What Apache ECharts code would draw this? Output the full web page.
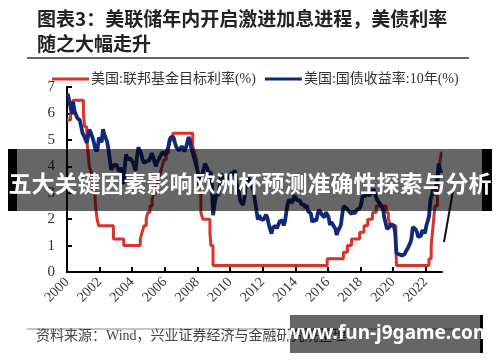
<!DOCTYPE html>
<html><head><meta charset="utf-8">
<script src="https://cdn.jsdelivr.net/npm/echarts@6/dist/echarts.min.js"></script>
<style>html,body{margin:0;padding:0;background:#fff}#c{width:500px;height:362px}</style>
</head><body><div id="c"></div>
<script>
// Fed funds target rate (upper bound), change dates and new levels
const fedDates = ['2000-01-01','2000-02-02','2000-03-21','2000-05-16','2001-01-03','2001-01-31','2001-03-20','2001-04-18','2001-05-15','2001-06-27','2001-08-21','2001-09-17','2001-10-02','2001-11-06','2001-12-11','2002-11-06','2003-06-25','2004-06-30','2004-08-10','2004-09-21','2004-11-10','2004-12-14','2005-02-02','2005-03-22','2005-05-03','2005-06-30','2005-08-09','2005-09-20','2005-11-01','2005-12-13','2006-01-31','2006-03-28','2006-05-10','2006-06-29','2007-09-18','2007-10-31','2007-12-11','2008-01-22','2008-01-30','2008-03-18','2008-04-30','2008-10-08','2008-10-29','2008-12-16','2015-12-16','2016-12-14','2017-03-15','2017-06-14','2017-12-13','2018-03-21','2018-06-13','2018-09-26','2018-12-19','2019-07-31','2019-09-18','2019-10-30','2020-03-03','2020-03-15','2022-03-16','2022-05-04','2022-06-15','2022-07-27','2022-09-21','2022-11-02','2022-12-14','2022-12-31'];
const fedRates = [5.75,5.75,6.0,6.5,6.0,5.5,5.0,4.5,4.0,3.75,3.5,3.0,2.5,2.0,1.75,1.25,1.0,1.25,1.5,1.75,2.0,2.25,2.5,2.75,3.0,3.25,3.5,3.75,4.0,4.25,4.5,4.75,5.0,5.25,4.75,4.5,4.25,3.5,3.0,2.25,2.0,1.5,1.0,0.25,0.5,0.75,1.0,1.25,1.5,1.75,2.0,2.25,2.5,2.25,2.0,1.75,1.25,0.25,0.5,1.0,1.75,2.5,3.25,4.0,4.5,4.5];
// US 10Y treasury yield, monthly, Jan 2000 - Dec 2022
const tenYearStart = 2000;
const tenYear = [
6.75,6.52,6.26,5.99,6.44,6.10,6.05,5.83,5.80,5.74,5.72,5.24,
5.16,5.10,4.89,5.14,5.39,5.28,5.24,4.97,4.73,4.57,4.65,5.09,
5.04,4.91,5.40,5.21,5.16,4.93,4.65,4.26,3.87,3.94,4.05,4.03,
4.05,3.90,3.81,3.96,3.57,3.33,3.98,4.45,4.27,4.29,4.30,4.27,
4.15,4.08,3.83,4.35,4.72,4.73,4.50,4.28,4.13,4.10,4.19,4.23,
4.22,4.17,4.50,4.34,4.14,4.00,4.18,4.26,4.20,4.46,4.54,4.47,
4.42,4.57,4.72,4.99,5.11,5.11,5.09,4.88,4.72,4.73,4.60,4.56,
4.76,4.72,4.56,4.69,4.75,5.10,5.00,4.67,4.52,4.53,4.15,4.10,
3.74,3.74,3.51,3.68,3.88,4.10,4.01,3.89,3.69,3.81,3.53,2.15,
2.52,2.87,2.82,2.93,3.29,3.72,3.56,3.59,3.40,3.39,3.40,3.59,
3.73,3.69,3.73,3.85,3.42,3.20,3.01,2.70,2.65,2.54,2.76,3.29,
3.39,3.58,3.41,3.46,3.17,3.00,3.00,2.30,1.98,2.15,2.01,1.98,
1.97,1.97,2.17,2.05,1.80,1.62,1.45,1.68,1.72,1.75,1.65,1.72,
1.91,1.98,1.96,1.76,1.93,2.30,2.58,2.74,2.81,2.62,2.72,2.90,
2.86,2.71,2.72,2.71,2.56,2.60,2.54,2.42,2.53,2.30,2.33,2.21,
1.88,1.98,2.04,1.94,2.20,2.36,2.32,2.17,2.17,2.07,2.26,2.24,
2.09,1.78,1.89,1.81,1.81,1.64,1.40,1.56,1.63,1.76,2.14,2.49,
2.43,2.42,2.48,2.30,2.30,2.19,2.32,2.21,2.20,2.36,2.35,2.40,
2.58,2.86,2.84,2.87,2.98,2.91,2.89,2.89,3.00,3.15,3.12,2.83,
2.71,2.68,2.57,2.53,2.40,2.07,2.06,1.63,1.70,1.71,1.81,1.86,
1.76,1.50,0.70,0.66,0.67,0.73,0.62,0.55,0.68,0.79,0.87,0.93,
1.08,1.26,1.70,1.64,1.62,1.52,1.32,1.28,1.37,1.58,1.56,1.47,
1.76,1.93,2.13,2.75,2.90,3.14,2.90,2.90,3.52,4.10,3.89,3.75];
const xTicks = [2000,2002,2004,2006,2008,2010,2012,2014,2016,2018,2020,2022];
const yTicks = [0,1,2,3,4,5,6,7];
const seriesNames = ['美国:联邦基金目标利率(%)','美国:国债收益率:10年(%)'];

function decYear(s){
  const d = new Date(s+'T00:00:00Z');
  const y = d.getUTCFullYear();
  const start = Date.UTC(y,0,1), end = Date.UTC(y+1,0,1);
  return y + (d.getTime()-start)/(end-start);
}
const fedData = fedDates.map((d,i)=>[decYear(d), fedRates[i]]);
const tyData = tenYear.map((v,i)=>[tenYearStart + (i+0.5)/12, v]);

const serif = "'Liberation Serif','Noto Sans CJK SC',serif";
const chart = echarts.init(document.getElementById('c'), null, {renderer:'canvas'});
chart.setOption({
  animation:false,
  backgroundColor:'#fff',
  grid:{left:67,right:58,top:87,bottom:90},
  legend:{
    left:47, top:67, itemWidth:37, itemHeight:3, itemGap:9, icon:'rect',
    textStyle:{fontFamily:serif,fontSize:14,color:'#333',padding:[0,0,0,-3]},
    data:seriesNames
  },
  xAxis:{
    type:'value', min:2000, max:2023,
    axisLine:{lineStyle:{color:'#000',width:2}},
    axisTick:{inside:true,length:5,lineStyle:{color:'#000',width:2},customValues:xTicks},
    axisLabel:{rotate:45,fontFamily:serif,fontSize:14,color:'#333',customValues:xTicks,formatter:v=>String(v),margin:8},
    splitLine:{show:false}
  },
  yAxis:{
    type:'value', min:0, max:7, interval:1,
    axisLine:{show:true,lineStyle:{color:'#000',width:2}},
    axisTick:{show:true,inside:true,length:5,lineStyle:{color:'#000',width:2}},
    axisLabel:{fontFamily:serif,fontSize:15,color:'#333',margin:12},
    splitLine:{show:false}
  },
  series:[
    {name:seriesNames[0],type:'line',step:'end',data:fedData,showSymbol:false,
     lineStyle:{color:'#d8322e',width:3},itemStyle:{color:'#d8322e'},z:2},
    {name:seriesNames[1],type:'line',data:tyData,showSymbol:false,
     lineStyle:{color:'#11297a',width:3.8},itemStyle:{color:'#11297a'},z:3}
  ],
  graphic:[
    {type:'text',left:37,top:9,style:{text:'图表3：美联储年内开启激进加息进程，美债利率',font:"bold 19px 'Noto Sans CJK SC'",fill:'#222'}},
    {type:'text',left:37,top:34,style:{text:'随之大幅走升',font:"bold 19px 'Noto Sans CJK SC'",fill:'#222'}},
    {type:'line',shape:{x1:27,y1:58,x2:469,y2:58},style:{stroke:'#333',lineWidth:1.5}},
    {type:'line',shape:{x1:27,y1:329,x2:469,y2:329},style:{stroke:'#888',lineWidth:1.2}},
    {type:'text',left:36,top:329,style:{text:'资料来源：Wind，兴业证券经济与金融研究院整理',font:"14px 'Liberation Serif','Noto Sans CJK SC'",fill:'#444'}},
    {type:'line',z:50,shape:{x1:444,y1:242,x2:454,y2:185},style:{stroke:'#111',lineWidth:2}},
    {type:'rect',z:100,shape:{x:17,y:149,width:465,height:62},style:{fill:'rgba(0,0,0,0.6)'}},
    {type:'rect',z:100,shape:{x:8,y:149,width:9,height:62},style:{fill:'#000'}},
    {type:'rect',z:100,shape:{x:482,y:149,width:10,height:62},style:{fill:'#000'}},
    {type:'text',z:101,x:250,y:183,style:{text:'五大关键因素影响欧洲杯预测准确性探索与分析',font:"bold 23px 'Noto Sans CJK SC'",fill:'#fff',align:'center',verticalAlign:'middle'}},
    {type:'rect',z:100,shape:{x:290,y:315,width:190,height:38},style:{fill:'rgba(0,0,0,0.6)'}},
    {type:'rect',z:100,shape:{x:480,y:315,width:3,height:38},style:{fill:'#000'}},
    {type:'text',z:101,x:388,y:334,style:{text:'www.fun-j9game.com',font:"bold 19px 'Noto Sans'",fill:'#fff',align:'center',verticalAlign:'middle'}}
  ]
});
</script></body></html>
